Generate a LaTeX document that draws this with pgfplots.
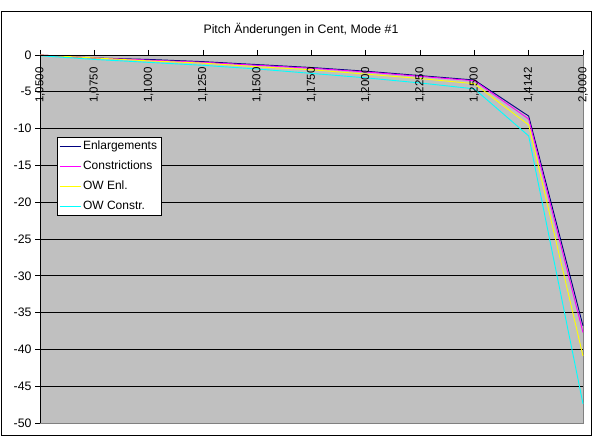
\documentclass[border=0pt]{standalone}
\usepackage{fontspec}
\setmainfont{Liberation Sans}
\usepackage{pgfplots}
\pgfplotsset{compat=1.18}

\definecolor{plotgray}{RGB}{192,192,192}
\definecolor{framegray}{RGB}{128,128,128}
\definecolor{enl}{RGB}{0,0,128}
\definecolor{con}{RGB}{255,0,255}
\definecolor{owenl}{RGB}{255,255,0}
\definecolor{owcon}{RGB}{0,255,255}

\begin{document}
\begin{tikzpicture}[x=1pt,y=1pt,
    xlab/.style={rotate=90, anchor=east, font=\fontsize{11.5}{13}\selectfont}]
\useasboundingbox (0,0) rectangle (592,436);
\draw[black, line width=0.8pt] (1,1) rectangle (591,425);
\node[font=\fontsize{12.3}{14}\selectfont] at (301,406) {Pitch Änderungen in Cent, Mode \#1};

\begin{axis}[
    at={(40pt,13pt)}, anchor=south west,
    scale only axis, width=543pt, height=368pt,
    clip=false,
    font=\fontsize{12.3}{14}\selectfont,
    xmin=0, xmax=10, ymin=-50, ymax=0,
    axis background/.style={fill=plotgray},
    axis line style={framegray, line width=0.8pt},
    xtick={0,...,10},
    xticklabels={},
    xtick pos=right,
    ytick={-50,-45,...,0},
    yticklabels={-50,-45,-40,-35,-30,-25,-20,-15,-10,-5,0},
    ytick pos=left,
    tick align=outside,
    major tick length=5pt,
    tick style={black, line width=0.8pt},
    ymajorgrids=true,
    grid style={black, line width=0.8pt},
    legend style={at={(0.031,0.777)}, anchor=north west, draw=black, fill=white,
        line width=0.6pt, inner xsep=2pt, inner ysep=1pt, row sep=4pt,
        font=\fontsize{12}{14}\selectfont,
        nodes={inner sep=2pt, text height=9pt, text depth=3pt}},
    legend cell align=left,
    legend image code/.code={\draw[#1] (0pt,0pt) -- (21pt,0pt);},
    every axis plot/.append style={line width=0.9pt, mark=none},
]
\addplot[enl] coordinates {(0,0) (1,-0.4) (2,-0.6) (3,-0.9) (4,-1.3) (5,-1.7) (6,-2.2) (7,-2.8) (8,-3.4) (9,-8.3) (10,-36.8)};
\addlegendentry{Enlargements}
\addplot[con] coordinates {(0,0) (1,-0.4) (2,-0.7) (3,-1.0) (4,-1.4) (5,-1.8) (6,-2.3) (7,-2.9) (8,-3.5) (9,-8.7) (10,-37.7)};
\addlegendentry{Constrictions}
\addplot[owenl] coordinates {(0,0) (1,-0.4) (2,-0.8) (3,-1.1) (4,-1.6) (5,-2.0) (6,-2.6) (7,-3.2) (8,-3.9) (9,-9.5) (10,-40.9)};
\addlegendentry{OW Enl.}
\addplot[owcon] coordinates {(0,-0.1) (1,-0.6) (2,-1.0) (3,-1.4) (4,-1.9) (5,-2.5) (6,-3.1) (7,-3.8) (8,-4.6) (9,-11.0) (10,-47.4)};
\addlegendentry{OW Constr.}
\draw[black, line width=0.8pt] (rel axis cs:0,0) -- (rel axis cs:0,1) -- (rel axis cs:1,1);
% category labels, rotated, just below the top axis line
\node[xlab] at ([yshift=-9pt]axis cs:0,0) {1,0500};
\node[xlab] at ([yshift=-9pt]axis cs:1,0) {1,0750};
\node[xlab] at ([yshift=-9pt]axis cs:2,0) {1,1000};
\node[xlab] at ([yshift=-9pt]axis cs:3,0) {1,1250};
\node[xlab] at ([yshift=-9pt]axis cs:4,0) {1,1500};
\node[xlab] at ([yshift=-9pt]axis cs:5,0) {1,1750};
\node[xlab] at ([yshift=-9pt]axis cs:6,0) {1,2000};
\node[xlab] at ([yshift=-9pt]axis cs:7,0) {1,2250};
\node[xlab] at ([yshift=-9pt]axis cs:8,0) {1,2500};
\node[xlab] at ([yshift=-9pt]axis cs:9,0) {1,4142};
\node[xlab] at ([yshift=-9pt]axis cs:10,0) {2,0000};
\end{axis}
\end{tikzpicture}
\end{document}
